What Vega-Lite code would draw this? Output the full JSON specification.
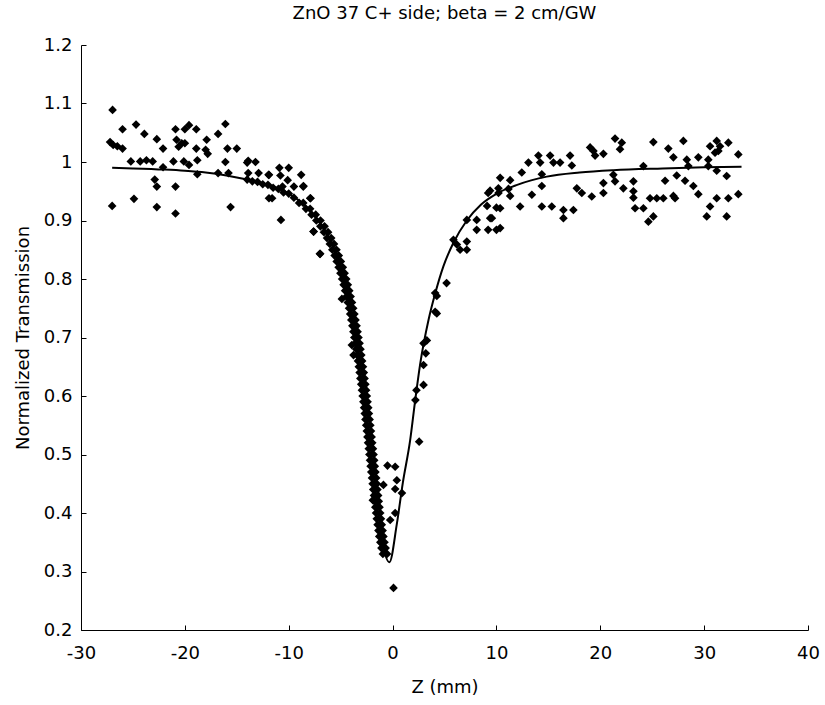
{
"$schema": "https://vega.github.io/schema/vega-lite/v6.json",
"width": 727, "height": 585,
"autosize": "none",
"padding": {"left": 81, "top": 45, "right": 17, "bottom": 75},
"background": "white",
"config": {"view": {"stroke": null}, "font": "DejaVu Sans"},
"title": {"text": "ZnO 37 C+ side; beta = 2 cm/GW", "fontSize": 18, "fontWeight": "normal", "font": "DejaVu Sans", "color": "black", "anchor": "middle", "offset": 13},
"datasets": {
"fit": [
{"z":-27,"t":0.990},{"z":-25,"t":0.989},{"z":-22,"t":0.987},{"z":-20,"t":0.985},{"z":-18,"t":0.982},{"z":-16,"t":0.977},{"z":-14,"t":0.970},{"z":-12,"t":0.961},{"z":-10,"t":0.946},{"z":-9,"t":0.934},{"z":-8,"t":0.918},{"z":-7,"t":0.896},{"z":-6,"t":0.866},{"z":-5,"t":0.820},{"z":-4.5,"t":0.789},{"z":-4,"t":0.751},{"z":-3.5,"t":0.703},{"z":-3,"t":0.644},{"z":-2.5,"t":0.574},{"z":-2,"t":0.495},{"z":-1.5,"t":0.416},{"z":-1,"t":0.352},{"z":-0.3,"t":0.316},{"z":0.4,"t":0.38},{"z":0.99,"t":0.452},{"z":1.69,"t":0.524},{"z":2.18,"t":0.593},{"z":2.66,"t":0.655},{"z":3.46,"t":0.730},{"z":4.1,"t":0.775},{"z":4.9,"t":0.822},{"z":5.86,"t":0.862},{"z":7.15,"t":0.900},{"z":8.5,"t":0.927},{"z":10.04,"t":0.946},{"z":12,"t":0.961},{"z":14.85,"t":0.975},{"z":18,"t":0.982},{"z":21.26,"t":0.986},{"z":26,"t":0.989},{"z":30,"t":0.991},{"z":33.6,"t":0.992}
],
"pts": [
{"z":-26.96,"t":1.089},{"z":-26.0,"t":1.056},{"z":-24.7,"t":1.064},{"z":-23.9,"t":1.048},{"z":-22.7,"t":1.039},{"z":-22.1,"t":1.023},
{"z":-27.2,"t":1.034},{"z":-26.9,"t":1.029},{"z":-26.5,"t":1.027},{"z":-26.0,"t":1.023},
{"z":-20.9,"t":1.056},{"z":-20.0,"t":1.056},{"z":-19.6,"t":1.063},{"z":-18.9,"t":1.056},
{"z":-20.8,"t":1.038},{"z":-20.3,"t":1.032},{"z":-20.6,"t":1.026},{"z":-20.0,"t":1.032},{"z":-18.9,"t":1.023},{"z":-17.9,"t":1.038},{"z":-18.0,"t":1.021},
{"z":-25.2,"t":1.001},{"z":-24.3,"t":1.001},{"z":-23.7,"t":1.003},{"z":-23.1,"t":1.001},{"z":-22.1,"t":0.991},
{"z":-21.1,"t":1.001},{"z":-20.1,"t":1.001},{"z":-19.6,"t":0.995},{"z":-18.8,"t":1.003},{"z":-18.8,"t":0.979},
{"z":-22.9,"t":0.970},{"z":-22.7,"t":0.958},{"z":-20.9,"t":0.958},{"z":-27.0,"t":0.925},{"z":-24.9,"t":0.937},{"z":-22.7,"t":0.923},{"z":-20.9,"t":0.912},
{"z":-16.1,"t":1.065},{"z":-16.8,"t":1.048},{"z":-17.8,"t":1.014},{"z":-15.9,"t":1.023},{"z":-15.0,"t":1.023},{"z":-16.1,"t":1.0},
{"z":-13.9,"t":1.002},{"z":-13.2,"t":1.0},{"z":-14.0,"t":0.999},{"z":-16.8,"t":0.981},{"z":-15.8,"t":0.981},
{"z":-13.9,"t":0.981},{"z":-12.9,"t":0.981},{"z":-11.9,"t":0.978},{"z":-10.9,"t":0.99},{"z":-10.0,"t":0.99},{"z":-8.8,"t":0.978},
{"z":-10.1,"t":0.969},{"z":-9.5,"t":0.958},{"z":-10.6,"t":0.958},{"z":-8.6,"t":0.958},{"z":-11.9,"t":0.938},{"z":-11.6,"t":0.938},{"z":-7.9,"t":0.938},
{"z":-15.6,"t":0.923},{"z":-10.75,"t":0.901},{"z":-7.6,"t":0.881},{"z":-7.0,"t":0.843},{"z":-10.8,"t":0.977},{"z":-11.94,"t":0.978},
{"z":-14,"t":0.970},{"z":-13.5,"t":0.967},{"z":-13,"t":0.966},{"z":-12.5,"t":0.962},{"z":-12,"t":0.961},{"z":-11.5,"t":0.956},{"z":-11,"t":0.954},{"z":-10.5,"t":0.948},{"z":-10,"t":0.946},{"z":-9.5,"t":0.939},
{"z":-9.0,"t":0.93},{"z":-8.6,"t":0.93},{"z":-8.34,"t":0.92},{"z":-7.94,"t":0.92},{"z":-7.8,"t":0.91},{"z":-7.4,"t":0.91},{"z":-7.34,"t":0.90},{"z":-6.94,"t":0.90},
{"z":-6.95,"t":0.89},{"z":-6.55,"t":0.89},{"z":-6.61,"t":0.88},{"z":-6.21,"t":0.88},{"z":-6.31,"t":0.87},{"z":-5.91,"t":0.87},{"z":-6.04,"t":0.86},{"z":-5.64,"t":0.86},
{"z":-5.8,"t":0.85},{"z":-5.4,"t":0.85},{"z":-5.58,"t":0.84},{"z":-5.18,"t":0.84},{"z":-5.38,"t":0.83},{"z":-4.98,"t":0.83},{"z":-5.19,"t":0.82},{"z":-4.79,"t":0.82},
{"z":-5.02,"t":0.81},{"z":-4.62,"t":0.81},{"z":-4.86,"t":0.80},{"z":-4.46,"t":0.80},{"z":-4.71,"t":0.79},{"z":-4.31,"t":0.79},{"z":-4.57,"t":0.78},{"z":-4.17,"t":0.78},
{"z":-4.44,"t":0.77},{"z":-4.04,"t":0.77},{"z":-4.31,"t":0.76},{"z":-3.91,"t":0.76},{"z":-4.19,"t":0.75},{"z":-3.79,"t":0.75},{"z":-4.08,"t":0.74},{"z":-3.68,"t":0.74},
{"z":-3.97,"t":0.73},{"z":-3.57,"t":0.73},{"z":-3.87,"t":0.72},{"z":-3.47,"t":0.72},{"z":-3.77,"t":0.71},{"z":-3.37,"t":0.71},{"z":-3.68,"t":0.70},{"z":-3.28,"t":0.70},
{"z":-3.58,"t":0.69},{"z":-3.18,"t":0.69},{"z":-3.49,"t":0.68},{"z":-3.09,"t":0.68},{"z":-3.41,"t":0.67},{"z":-3.01,"t":0.67},{"z":-3.33,"t":0.66},{"z":-2.93,"t":0.66},
{"z":-3.25,"t":0.65},{"z":-2.85,"t":0.65},{"z":-3.17,"t":0.64},{"z":-2.77,"t":0.64},{"z":-3.1,"t":0.63},{"z":-2.7,"t":0.63},{"z":-3.02,"t":0.62},{"z":-2.62,"t":0.62},
{"z":-2.95,"t":0.61},{"z":-2.55,"t":0.61},{"z":-2.88,"t":0.60},{"z":-2.48,"t":0.60},{"z":-2.81,"t":0.59},{"z":-2.41,"t":0.59},{"z":-2.74,"t":0.58},{"z":-2.34,"t":0.58},
{"z":-2.68,"t":0.57},{"z":-2.28,"t":0.57},{"z":-2.61,"t":0.56},{"z":-2.21,"t":0.56},{"z":-2.54,"t":0.55},{"z":-2.14,"t":0.55},{"z":-2.48,"t":0.54},{"z":-2.08,"t":0.54},
{"z":-2.42,"t":0.53},{"z":-2.02,"t":0.53},{"z":-2.36,"t":0.52},{"z":-1.96,"t":0.52},{"z":-2.29,"t":0.51},{"z":-1.89,"t":0.51},{"z":-2.23,"t":0.50},{"z":-1.83,"t":0.50},
{"z":-2.17,"t":0.49},{"z":-1.77,"t":0.49},{"z":-2.11,"t":0.48},{"z":-1.71,"t":0.48},{"z":-2.05,"t":0.47},{"z":-1.65,"t":0.47},{"z":-1.98,"t":0.46},{"z":-1.58,"t":0.46},
{"z":-1.92,"t":0.45},{"z":-1.52,"t":0.45},{"z":-1.86,"t":0.44},{"z":-1.46,"t":0.44},{"z":-1.79,"t":0.43},{"z":-1.39,"t":0.43},{"z":-1.73,"t":0.42},{"z":-1.33,"t":0.42},
{"z":-1.66,"t":0.41},{"z":-1.26,"t":0.41},{"z":-1.59,"t":0.40},{"z":-1.19,"t":0.40},{"z":-1.52,"t":0.39},{"z":-1.12,"t":0.39},{"z":-1.44,"t":0.38},{"z":-1.04,"t":0.38},
{"z":-1.36,"t":0.37},{"z":-0.96,"t":0.37},{"z":-1.28,"t":0.36},{"z":-0.88,"t":0.36},{"z":-1.18,"t":0.35},{"z":-0.78,"t":0.35},{"z":-1.07,"t":0.34},{"z":-0.67,"t":0.34},
{"z":-0.93,"t":0.33},{"z":-0.53,"t":0.33},
{"z":-0.49,"t":0.481},{"z":0.25,"t":0.479},{"z":0.41,"t":0.456},{"z":-0.88,"t":0.448},{"z":0.25,"t":0.441},{"z":0.9,"t":0.434},{"z":-1.9,"t":0.422},
{"z":0.25,"t":0.40},{"z":-0.23,"t":0.388},{"z":-1.03,"t":0.348},{"z":0.09,"t":0.272},{"z":2.56,"t":0.522},
{"z":2.98,"t":0.619},{"z":2.3,"t":0.61},{"z":2.2,"t":0.593},{"z":2.98,"t":0.653},{"z":3.2,"t":0.673},{"z":2.98,"t":0.69},{"z":3.3,"t":0.695},
{"z":4.1,"t":0.744},{"z":4.26,"t":0.741},{"z":4.1,"t":0.776},{"z":4.26,"t":0.771},{"z":5.2,"t":0.793},
{"z":5.86,"t":0.867},{"z":6.19,"t":0.859},{"z":6.5,"t":0.85},{"z":7.15,"t":0.85},{"z":7.15,"t":0.864},
{"z":7.15,"t":0.901},{"z":8.1,"t":0.901},{"z":8.1,"t":0.884},{"z":9.2,"t":0.884},{"z":9.4,"t":0.904},{"z":10.0,"t":0.884},
{"z":9.2,"t":0.947},{"z":10.2,"t":0.947},{"z":9.1,"t":0.925},{"z":10.0,"t":0.922},
{"z":-8.58,"t":0.959},{"z":-7.93,"t":0.938},{"z":-7.61,"t":0.881},{"z":-6.97,"t":0.843},{"z":-4.88,"t":0.766},{"z":-3.92,"t":0.687},{"z":-3.76,"t":0.67},
{"z":10.36,"t":0.887},{"z":9.56,"t":0.904},{"z":10.36,"t":0.921},
{"z":9.39,"t":0.951},{"z":10.19,"t":0.955},{"z":10.36,"t":0.973},{"z":11.32,"t":0.969},{"z":11.32,"t":0.942},{"z":11.16,"t":0.954},
{"z":12.28,"t":0.924},{"z":14.37,"t":0.924},{"z":15.33,"t":0.924},{"z":13.41,"t":0.944},
{"z":12.44,"t":0.982},{"z":13.08,"t":0.999},{"z":14.04,"t":1.011},{"z":14.21,"t":0.999},{"z":14.37,"t":0.979},{"z":14.37,"t":0.959},{"z":15.17,"t":1.011},{"z":15.49,"t":0.999},{"z":16.13,"t":0.999},{"z":17.09,"t":1.011},{"z":17.26,"t":0.994},
{"z":16.45,"t":0.918},{"z":16.45,"t":0.904},{"z":17.41,"t":0.918},{"z":17.74,"t":0.955},{"z":18.22,"t":0.947},{"z":19.18,"t":0.941},
{"z":19.02,"t":1.025},{"z":19.34,"t":1.019},{"z":19.5,"t":1.011},{"z":20.3,"t":1.014},{"z":20.3,"t":0.964},{"z":20.3,"t":0.947},
{"z":21.42,"t":1.04},{"z":22.07,"t":1.033},{"z":21.9,"t":1.022},
{"z":21.26,"t":0.978},{"z":21.42,"t":0.967},{"z":22.22,"t":0.955},{"z":23.19,"t":0.967},{"z":23.19,"t":0.95},{"z":23.19,"t":0.939},{"z":23.35,"t":0.921},{"z":24.15,"t":0.921},
{"z":24.15,"t":0.993},{"z":24.63,"t":0.898},{"z":25.11,"t":0.907},
{"z":24.79,"t":0.938},{"z":25.44,"t":0.938},{"z":26.07,"t":0.938},{"z":27.04,"t":0.942},{"z":27.2,"t":0.938},
{"z":25.11,"t":1.034},{"z":26.55,"t":1.023},{"z":27.04,"t":1.008},{"z":26.24,"t":0.968},{"z":27.36,"t":0.977},{"z":28.16,"t":0.968},{"z":28.96,"t":0.959},{"z":29.44,"t":0.945},
{"z":28.0,"t":1.036},{"z":28.33,"t":1.004},{"z":29.44,"t":1.008},{"z":30.4,"t":1.004},{"z":30.57,"t":1.027},{"z":31.21,"t":1.036},{"z":31.53,"t":1.027},{"z":31.05,"t":1.016},{"z":31.37,"t":1.019},{"z":32.33,"t":1.033},{"z":33.29,"t":1.013},
{"z":28.48,"t":0.993},{"z":30.4,"t":0.993},{"z":31.21,"t":0.985},
{"z":30.57,"t":0.924},{"z":30.25,"t":0.907},{"z":31.21,"t":0.938},{"z":32.33,"t":0.938},{"z":32.17,"t":0.976},{"z":33.29,"t":0.945},{"z":32.17,"t":0.907}
]
},
"layer": [
{
"data": {"name": "pts"},
"mark": {"type": "point", "shape": "diamond", "filled": true, "size": 75, "color": "black", "opacity": 1},
"encoding": {
"x": {"field": "z", "type": "quantitative",
"scale": {"domain": [-30, 40], "nice": false, "zero": false},
"axis": {"title": "Z (mm)", "values": [-30,-20,-10,0,10,20,30,40], "labelExpr": "toString(datum.value)", "grid": false, "tickSize": -5, "labelPadding": 19, "domainColor": "black", "tickColor": "black", "labelColor": "black", "labelFontSize": 18, "labelFont": "DejaVu Sans", "titleFont": "DejaVu Sans", "titleFontSize": 18, "titleFontWeight": "normal", "titleColor": "black", "titlePadding": 16, "labelFlush": false}},
"y": {"field": "t", "type": "quantitative",
"scale": {"domain": [0.2, 1.2], "nice": false, "zero": false},
"axis": {"title": "Normalized Transmission", "values": [0.2,0.3,0.4,0.5,0.6,0.7,0.8,0.9,1.0,1.1,1.2], "format": "~g", "grid": false, "tickSize": -5, "labelPadding": 14, "domainColor": "black", "tickColor": "black", "labelColor": "black", "labelFontSize": 18, "labelFont": "DejaVu Sans", "titleFont": "DejaVu Sans", "titleFontSize": 18, "titleFontWeight": "normal", "titleColor": "black", "titlePadding": 11, "labelFlush": false}}
}
},
{
"data": {"name": "fit"},
"mark": {"type": "line", "color": "black", "strokeWidth": 2, "interpolate": "monotone"},
"encoding": {
"x": {"field": "z", "type": "quantitative"},
"y": {"field": "t", "type": "quantitative"}
}
}
]
}
